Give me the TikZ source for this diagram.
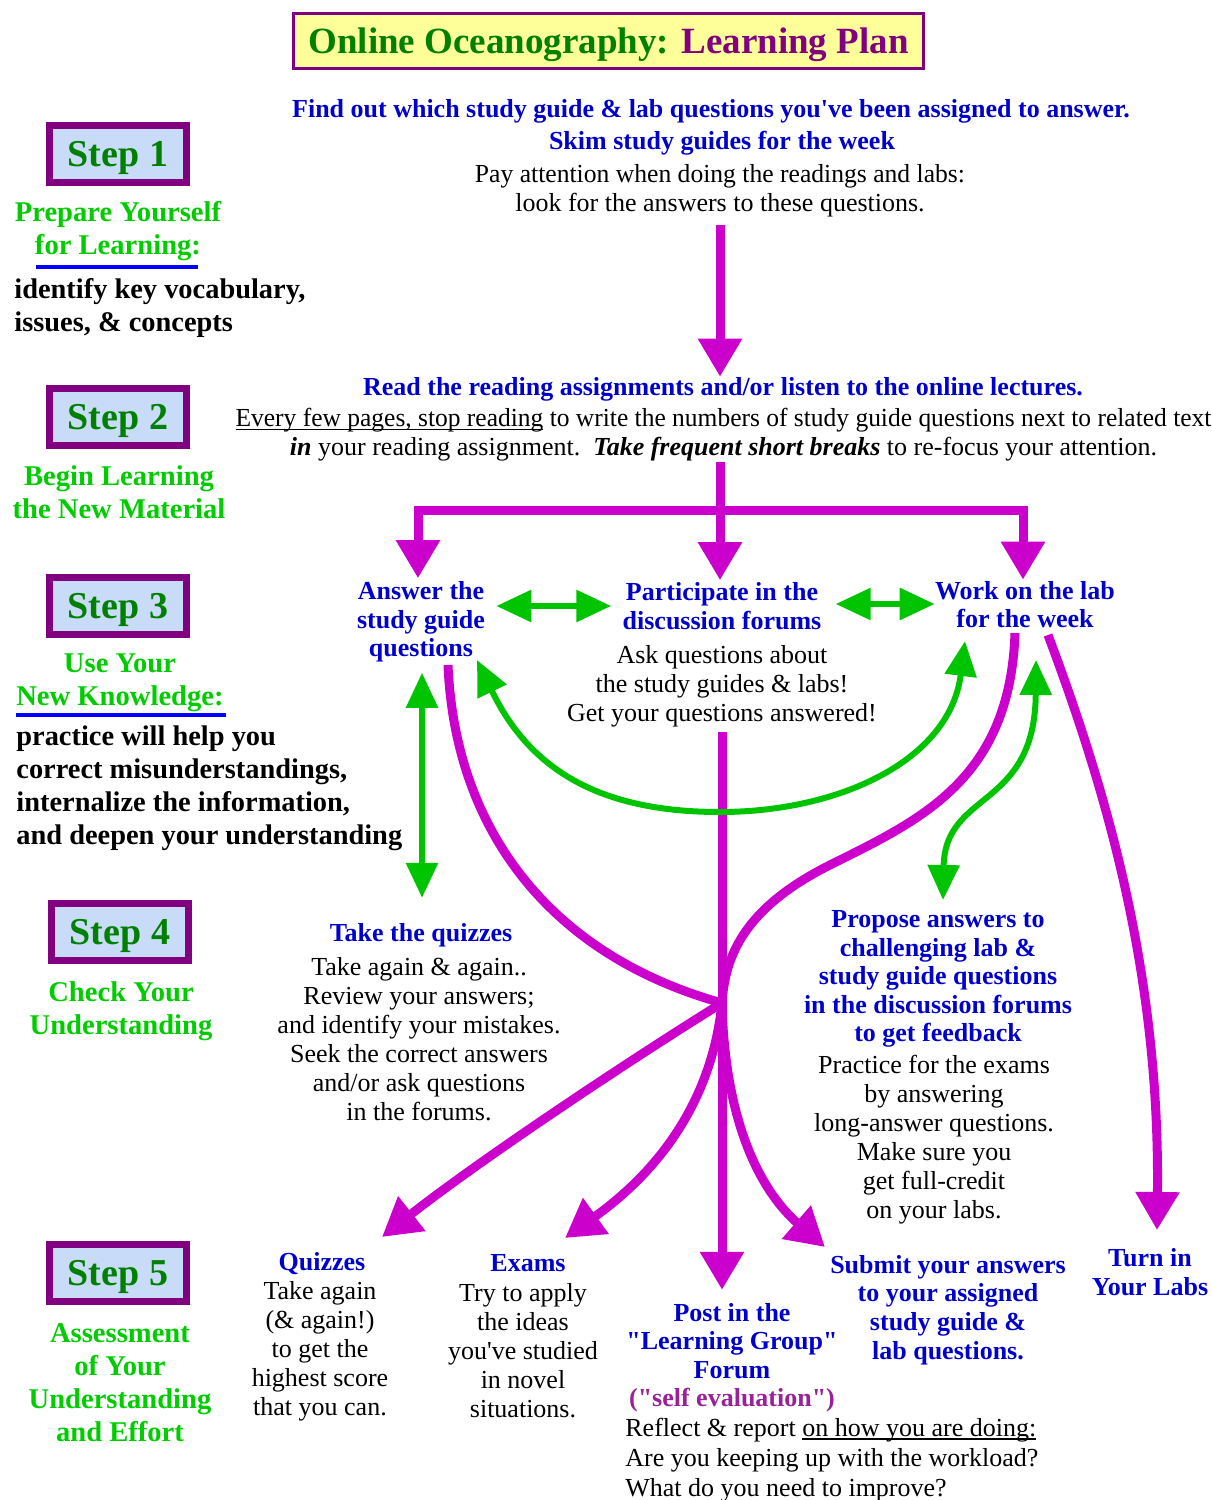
\documentclass[tikz,border=0pt]{standalone}
\usepackage{fontspec}
\setmainfont{Liberation Serif}
\usetikzlibrary{arrows.meta, calc}

\definecolor{titlegreen}{RGB}{0,128,0}
\definecolor{purp}{RGB}{128,0,128}
\definecolor{titlefill}{RGB}{255,255,153}
\definecolor{stepfill}{RGB}{200,220,250}
\definecolor{subgreen}{RGB}{0,204,0}
\definecolor{bluetxt}{RGB}{0,0,204}
\definecolor{mag}{RGB}{204,0,204}
\definecolor{agreen}{RGB}{0,196,0}
\definecolor{selfpurp}{RGB}{153,34,153}

% close underline, just below the baseline
\newcommand{\lowline}[1]{\setbox0\hbox{#1}\rlap{\rule[-1.6pt]{\wd0}{0.6pt}}#1}
\newcommand{\qq}{\textquotedbl}
\newcommand{\ap}{\textquotesingle}

\tikzset{
    titlebox/.style={draw=purp, line width=1.5pt, fill=titlefill, minimum width=315pt,
        minimum height=27.5pt, text height=12.5pt, text depth=0pt,
        font=\fontsize{18.5}{22}\selectfont\bfseries, text=purp},
    stepbox/.style={draw=purp, line width=3.5pt, fill=stepfill, minimum width=68.5pt,
        minimum height=28.5pt, text height=12.6pt, text depth=0pt,
        font=\fontsize{19}{22}\selectfont\bfseries, text=titlegreen},
    body/.style={font=\fontsize{13}{14.5}\selectfont, align=center, inner sep=0pt, yshift=-1.5pt},
    bluehead/.style={font=\fontsize{13}{14.3}\selectfont\bfseries, text=bluetxt, align=center,
        inner sep=0pt, yshift=-1.5pt},
    greenhead/.style={font=\fontsize{14.3}{16.5}\selectfont\bfseries, text=subgreen, align=center,
        inner sep=0pt, yshift=-1.5pt},
    boldleft/.style={font=\fontsize{14.2}{16.5}\selectfont\bfseries, align=left, anchor=west,
        inner sep=0pt, yshift=-1.5pt},
    blueline/.style={draw=blue, line width=2pt},
    magline/.style={draw=mag, line width=4.5pt},
    magarrow/.style={magline, -{Triangle[width=21pt,length=19pt]}},
    grarrow/.style={draw=agreen, line width=3pt,
        {Triangle[width=15.5pt,length=17.5pt]}-{Triangle[width=15.5pt,length=17.5pt]}}
}

\begin{document}
\begin{tikzpicture}[x=0.5pt, y=-0.5pt]
    \useasboundingbox (0,0) rectangle (1211,1500);
    \node [titlebox] (title) at (608.5,41) {{\color{titlegreen}Online Oceanography:} Learning Plan};

    % left column
    \node [stepbox] (step1) at (118,154) {Step 1};
    \node [greenhead] (prep) at (118,228.5) {Prepare Yourself\\for Learning:};
    \draw [blueline] (36,267) -- (198,267);
    \node [boldleft] (ident) at (14,305.5) {identify key vocabulary,\\issues, \& concepts};

    \node [stepbox] (step2) at (118,417) {Step 2};
    \node [greenhead] (begin) at (119,489) {Begin Learning\\the New Material};

    \node [stepbox] (step3) at (118,606) {Step 3};
    \node [greenhead] (use) at (120,679.5) {Use Your\\New Knowledge:};
    \draw [blueline] (16,715) -- (226,715);
    \node [boldleft] (deepen) at (16,785.5) {practice will help you\\correct misunderstandings,\\internalize the information,\\and deepen your understanding};

    \node [stepbox] (step4) at (120,932) {Step 4};
    \node [greenhead] (check) at (121,1008.5) {Check Your\\Understanding};

    \node [stepbox] (step5) at (118,1273) {Step 5};
    \node [greenhead] (assess) at (120,1379.5) {Assessment\\of Your\\Understanding\\and Effort};

    % step 1 and 2
    \node [bluehead] (findq) at (711,108) {Find out which study guide \& lab questions you\ap ve been assigned to answer.};
    \node [bluehead] (skim) at (722,140) {Skim study guides for the week};
    \node [body] (pay) at (720,187.5) {\scalebox{0.985}[1]{Pay attention when doing the readings and labs:}\\look for the answers to these questions.};
    \node [bluehead] (read) at (723,386) {Read the reading assignments and/or listen to the online lectures.};
    \node [body] (every) at (723.5,432) {\scalebox{0.98}[1]{\lowline{Every few pages, stop reading} to write the numbers of study guide questions next to related text}\\\textbf{\textit{in}} your reading assignment.\ \ \textbf{\textit{Take frequent short breaks}} to re-focus your attention.};

    % step 3
    \node [bluehead] (answer) at (421,619) {Answer the\\study guide\\questions};
    \node [bluehead] (forum) at (722,603) {Participate in the\\discussion forums};
    \node [bluehead] (lab) at (1025,601.5) {Work on the lab\\for the week};
    \node [body] (ask) at (722,683.5) {Ask questions about\\the study guides \& labs!\\Get your questions answered!};

    % step 4
    \node [bluehead] (quiz) at (421,932) {Take the quizzes};
    \node [body] (quiztext) at (419,1036) {Take again \& again..\\Review your answers;\\and identify your mistakes.\\Seek the correct answers\\and/or ask questions\\in the forums.};
    \node [bluehead] (propose) at (938,976) {Propose answers to\\challenging lab \&\\study guide questions\\in the discussion forums\\to get feedback};
    \node [body] (practice) at (934,1137) {Practice for the exams\\by answering\\long-answer questions.\\Make sure you\\get full-credit\\on your labs.};

    % step 5
    \node [bluehead] (quizzes) at (322,1261) {Quizzes};
    \node [body] (quizzestext) at (320,1348) {Take again\\(\& again!)\\to get the\\highest score\\that you can.};
    \node [bluehead] (exams) at (528,1260) {Exams};
    \node [body] (examstext) at (523,1348) {Try to apply\\the ideas\\you\ap ve studied\\in novel\\situations.};
    \node [bluehead] (post) at (732,1338) {Post in the\\\qq Learning Group\qq\\Forum};
    \node [bluehead, text=selfpurp] (selfeval) at (732,1397) {(\qq self evaluation\qq)};
    \node [body, align=left, anchor=west, font=\fontsize{13}{15}\selectfont] (reflect) at (625,1457) {Reflect \& report \lowline{on how you are doing:}\\Are you keeping up with the workload?\\What do you need to improve?};
    \node [bluehead] (submit) at (948,1307) {Submit your answers\\to your assigned\\study guide \&\\lab questions.};
    \node [bluehead] (turnin) at (1150,1269) {Turn in\\Your Labs};

    % magenta flow
    \coordinate (split) at (720,510);
    \coordinate (hub) at (722,1003);
    \draw [magarrow, shorten <=4pt] (pay.south) -- (pay.south |- read.north);
    \draw [magline] (split |- every.south) -- (split);
    \draw [magarrow] (split) -- ($(split |- forum.north)+(0,-2)$);
    \draw [magarrow] (split) -| ($(answer.north)+(-3,-3)$);
    \draw [magarrow] (split) -| ($(lab.north)+(-2,-1)$);
    \draw [magarrow, shorten <=2pt, shorten >=6.5pt] (ask.south -| hub) -- (post.north -| hub);
    \draw [magline] (448,665) .. controls (455,830) and (550,955) .. (hub);
    \draw [magline] (1015,633) .. controls (1010,780) and (920,820) .. (830,865)
        .. controls (740,910) and (725,960) .. (hub);
    \draw [magarrow] (hub) .. controls (630,1060) and (480,1160) .. (382,1237);
    \draw [magarrow] (hub) .. controls (712,1100) and (660,1170) .. (565,1238);
    \draw [magarrow] (hub) .. controls (725,1130) and (765,1195) .. (825,1247);
    \draw [magarrow] (1048,635) .. controls (1110,800) and (1160,980) .. (1157,1230);

    % green links
    \draw [grarrow, shorten <=5.5pt, shorten >=5.5pt] (answer.east |- 0,606) -- (forum.west |- 0,606);
    \draw [grarrow, shorten <=7pt] (forum.east |- 0,604) -- (lab.west |- 0,604);
    \draw [grarrow, shorten <=5pt, shorten >=12.5pt] (answer.south -| 422,0) -- (quiz.north -| 422,0);
    \draw [grarrow] (477,660) .. controls (530,770) and (600,812) .. (720,812)
        .. controls (840,812) and (950,760) .. (965,641);
    \draw [grarrow] (1036,660) .. controls (1035,810) and (945,790) .. (943,900);
\end{tikzpicture}
\end{document}
